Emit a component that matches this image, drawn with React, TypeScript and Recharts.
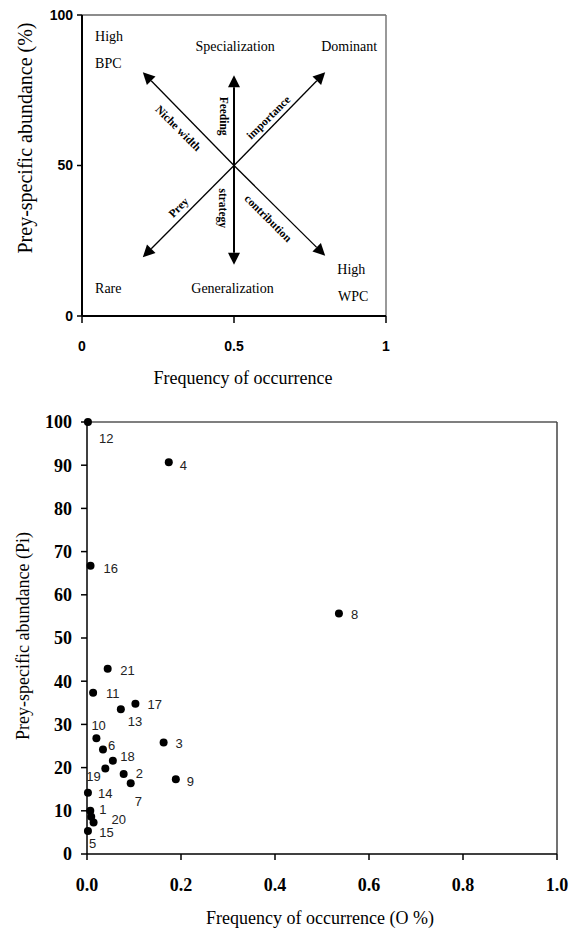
import React from 'react';
import { ScatterChart, Scatter, XAxis, YAxis, ReferenceLine } from 'recharts';

// ---------- Top diagram (Costello graphical method) ----------
const DIAGRAM_X_TICKS = [0, 0.5, 1];
const DIAGRAM_Y_TICKS = [0, 50, 100];
const ARROW_ORIGIN_X = 0.5;
const ARROW_ORIGIN_Y = 50;
const ARROW_TIP_X = [0.2, 0.8, 0.2, 0.8, 0.5, 0.5];
const ARROW_TIP_Y = [81, 81, 19.5, 20, 80, 17];

const CORNER_TEXTS = ['High', 'BPC', 'Specialization', 'Dominant', 'Rare', 'Generalization', 'High', 'WPC'];
const CORNER_X = [0.043, 0.043, 0.504, 0.879, 0.043, 0.495, 0.84, 0.842];
const CORNER_Y = [92.8, 84, 89.5, 89.5, 9.2, 9.2, 15.5, 6.6];
const CORNER_ANCHOR = ['start', 'start', 'middle', 'middle', 'start', 'middle', 'start', 'start'];

const AXIS_WORDS = ['Niche width', 'Feeding', 'importance', 'Prey', 'strategy', 'contribution'];
const AXIS_WORD_X = [0.317, 0.467, 0.613, 0.317, 0.465, 0.613];
const AXIS_WORD_Y = [62.4, 66.4, 66.0, 36.1, 35.8, 32.5];
const AXIS_WORD_ANGLE = [45, 90, -45, -45, 90, 45];

// ---------- Bottom scatter ----------
const PREY_IDS = [1, 2, 3, 4, 5, 6, 7, 8, 9, 10, 11, 12, 13, 14, 15, 16, 17, 18, 19, 20, 21];
const FREQ_OCC = [0.007, 0.078, 0.163, 0.174, 0.002, 0.034, 0.093, 0.536, 0.189, 0.02, 0.013, 0.002, 0.072, 0.002, 0.009, 0.0075, 0.103, 0.055, 0.039, 0.014, 0.044];
const PREY_ABUND = [10.0, 18.5, 25.8, 90.7, 5.3, 24.2, 16.4, 55.7, 17.3, 26.8, 37.3, 100, 33.5, 14.2, 8.6, 66.7, 34.8, 21.6, 19.8, 7.3, 42.9];
const SCATTER_X_TICKS = [0, 0.2, 0.4, 0.6, 0.8, 1.0];
const SCATTER_Y_TICKS = [0, 10, 20, 30, 40, 50, 60, 70, 80, 90, 100];

// label placement (pixels relative to the dot), indexed like PREY_IDS
const LABEL_DX = [9, 12, 12, 11, 1, 5, 4, 12, 11, -5, 13, 11, 7, 10, 8, 13, 12, 7.5, -19, 18, 12.5];
const LABEL_DY = [-1, -1, 1, 3, 12, -4, 18, 1, 2, -13, 1, 16, 12, 1, 16, 3, 1, -4, 8, -3, 2];

const SERIF = '"Liberation Serif", "Times New Roman", serif';
const SANS = '"Liberation Sans", Arial, sans-serif';

const cornerData = CORNER_TEXTS.map((t, i) => ({ x: CORNER_X[i], y: CORNER_Y[i], text: t, anchor: CORNER_ANCHOR[i] }));
const wordData = AXIS_WORDS.map((t, i) => ({ x: AXIS_WORD_X[i], y: AXIS_WORD_Y[i], text: t, angle: AXIS_WORD_ANGLE[i] }));
const preyData = PREY_IDS.map((id, i) => ({ id, x: FREQ_OCC[i], y: PREY_ABUND[i], dx: LABEL_DX[i], dy: LABEL_DY[i] }));

const Arrow = (p: any) => {
  const { x1, y1, x2, y2 } = p;
  const sw = p.strokeWidth || 1.5;
  const ang = Math.atan2(y2 - y1, x2 - x1);
  const L = 12;
  const W = 6;
  const bx = x2 - L * Math.cos(ang);
  const by = y2 - L * Math.sin(ang);
  const px = -Math.sin(ang) * W;
  const py = Math.cos(ang) * W;
  return (
    <g>
      <line x1={x1} y1={y1} x2={bx} y2={by} stroke="#000" strokeWidth={sw} />
      <polygon points={`${x2},${y2} ${bx + px},${by + py} ${bx - px},${by - py}`} fill="#000" />
    </g>
  );
};

const CornerText = (p: any) => (
  <text x={p.cx} y={p.cy} textAnchor={p.payload.anchor} dominantBaseline="central" fontFamily={SERIF} fontSize={14} fill="#000">
    {p.payload.text}
  </text>
);

const WordText = (p: any) => (
  <text
    x={p.cx}
    y={p.cy}
    textAnchor="middle"
    dominantBaseline="central"
    fontFamily={SERIF}
    fontSize={11.5}
    fontWeight="bold"
    fill="#000"
    transform={`rotate(${p.payload.angle} ${p.cx} ${p.cy})`}
  >
    {p.payload.text}
  </text>
);

const PreyDot = (p: any) => (
  <g>
    <circle cx={p.cx} cy={p.cy} r={4} fill="#000" />
    <text x={p.cx + p.payload.dx} y={p.cy + p.payload.dy} dominantBaseline="central" fontFamily={SANS} fontSize={13} fill="#222">
      {p.payload.id}
    </text>
  </g>
);

export default function App() {
  return (
    <div style={{ position: 'absolute', left: 0, top: 0, width: 582, height: 929, background: '#fff' }}>
      <div style={{ position: 'absolute', left: 0, top: 0 }}>
        <ScatterChart width={400} height={400} margin={{ top: 15, right: 14, left: 0, bottom: 0 }}>
          <XAxis
            dataKey="x"
            type="number"
            domain={[0, 1]}
            ticks={DIAGRAM_X_TICKS}
            tickFormatter={(v: number) => String(v)}
            height={84}
            axisLine={{ stroke: '#000', strokeWidth: 2 }}
            tickLine={{ stroke: '#000', strokeWidth: 1.5 }}
            tickSize={7}
            tickMargin={18}
            tick={{ fontFamily: SANS, fontSize: 14, fontWeight: 'bold', fill: '#000' }}
            label={{
              content: () => (
                <text x={243} y={378} textAnchor="middle" dominantBaseline="central" fontFamily={SERIF} fontSize={18} fill="#000">
                  Frequency of occurrence
                </text>
              ),
            }}
          />
          <YAxis
            dataKey="y"
            type="number"
            domain={[0, 100]}
            ticks={DIAGRAM_Y_TICKS}
            width={82}
            axisLine={{ stroke: '#000', strokeWidth: 2 }}
            tickLine={{ stroke: '#000', strokeWidth: 1.5 }}
            tickSize={5}
            tickMargin={4}
            tick={{ fontFamily: SANS, fontSize: 14, fontWeight: 'bold', fill: '#000' }}
            label={{
              content: () => (
                <text x={25} y={138} textAnchor="middle" dominantBaseline="central" fontFamily={SERIF} fontSize={20} fill="#000" transform="rotate(-90 25 138)">
                  Prey-specific abundance (%)
                </text>
              ),
            }}
          />
          <ReferenceLine y={100} stroke="#666" strokeWidth={1.5} />
          <ReferenceLine x={1} stroke="#777" strokeWidth={1.5} />
          {ARROW_TIP_X.map((tx, i) => (
            <ReferenceLine
              key={i}
              segment={[{ x: ARROW_ORIGIN_X, y: ARROW_ORIGIN_Y }, { x: tx, y: ARROW_TIP_Y[i] }]}
              stroke="#000"
              strokeWidth={tx === ARROW_ORIGIN_X ? 2 : 1.3}
              shape={Arrow}
            />
          ))}
          <Scatter data={cornerData} shape={CornerText} isAnimationActive={false} />
          <Scatter data={wordData} shape={WordText} isAnimationActive={false} />
        </ScatterChart>
      </div>
      <div style={{ position: 'absolute', left: 0, top: 400 }}>
        <ScatterChart width={582} height={529} margin={{ top: 22, right: 25, left: 0, bottom: 0 }}>
          <XAxis
            dataKey="x"
            type="number"
            domain={[0, 1]}
            ticks={SCATTER_X_TICKS}
            tickFormatter={(v: number) => v.toFixed(1)}
            height={75}
            axisLine={{ stroke: '#000', strokeWidth: 1.5 }}
            tickLine={{ stroke: '#000', strokeWidth: 1.5 }}
            tickSize={6}
            tickMargin={18}
            tick={{ fontFamily: SERIF, fontSize: 18, fontWeight: 'bold', fill: '#000' }}
            label={{
              content: () => (
                <text x={320} y={518} textAnchor="middle" dominantBaseline="central" fontFamily={SERIF} fontSize={18} fill="#000">
                  Frequency of occurrence (O %)
                </text>
              ),
            }}
          />
          <YAxis
            dataKey="y"
            type="number"
            domain={[0, 100]}
            ticks={SCATTER_Y_TICKS}
            width={87}
            axisLine={{ stroke: '#000', strokeWidth: 1.5 }}
            tickLine={{ stroke: '#000', strokeWidth: 1.5 }}
            tickSize={6}
            tickMargin={9}
            tick={{ fontFamily: SERIF, fontSize: 18, fontWeight: 'bold', fill: '#000' }}
            label={{
              content: () => (
                <text x={23} y={236} textAnchor="middle" dominantBaseline="central" fontFamily={SERIF} fontSize={18} fill="#000" transform="rotate(-90 23 236)">
                  Prey-specific abundance (Pi)
                </text>
              ),
            }}
          />
          <ReferenceLine y={100} stroke="#555" strokeWidth={1.5} />
          <ReferenceLine x={1} stroke="#444" strokeWidth={1.5} />
          <Scatter data={preyData} shape={PreyDot} isAnimationActive={false} />
        </ScatterChart>
      </div>
    </div>
  );
}
